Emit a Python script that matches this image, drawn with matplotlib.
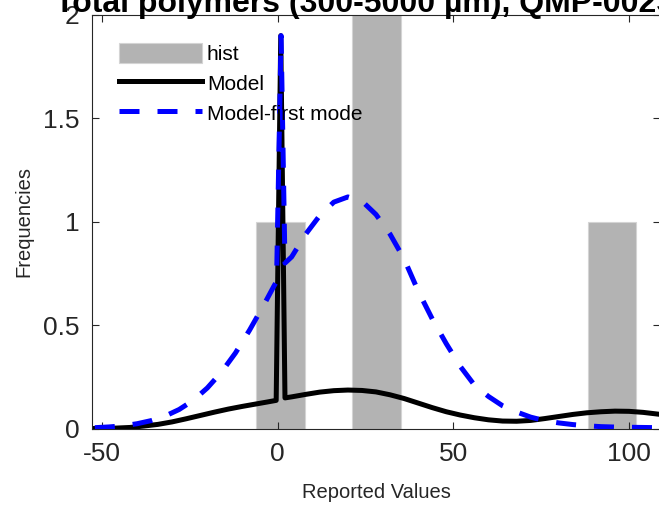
import matplotlib
matplotlib.use("Agg")
import matplotlib.pyplot as plt

plt.rcParams['font.family'] = ['Liberation Sans', 'DejaVu Sans']
plt.rcParams['axes.unicode_minus'] = False

# Histogram bars
bar_centers = [0.8, 28.1, 95.1]
bar_heights = [1, 2, 1]
bar_width = 13.8

# Model (black solid)
model_x = [-52, -46, -42, -38, -34, -30, -26, -22, -18, -14, -10, -6, -3, -0.4,
           0.9, 2.1, 4, 8, 12, 16, 20, 24, 28, 32, 36, 40, 44, 48, 52, 56, 60,
           64, 68, 72, 76, 80, 84, 88, 92, 96, 100, 104, 108, 112]
model_y = [0.0, 0.002, 0.005, 0.012, 0.02, 0.032, 0.047, 0.063, 0.079, 0.094,
           0.107, 0.119, 0.128, 0.136,
           1.90, 0.148, 0.153, 0.165, 0.176, 0.183, 0.186, 0.184, 0.177, 0.163,
           0.145, 0.123, 0.101, 0.081, 0.065, 0.052, 0.042, 0.036, 0.035, 0.039,
           0.048, 0.058, 0.068, 0.076, 0.081, 0.084, 0.083, 0.078, 0.07, 0.062]

# Model - first mode (blue dashed)
mode1_x = [-52, -48, -44, -40, -36, -32, -28, -24, -20, -16, -12, -8, -4, -1,
           -0.3, 1.0, 2.1, 4, 8, 12, 16, 20, 24, 28, 32, 36, 40, 44, 48, 52, 56,
           60, 64, 68, 72, 76, 80, 84, 88, 92, 96, 100, 104, 108, 112]
mode1_y = [0.004, 0.0075, 0.013, 0.023, 0.038, 0.06, 0.092, 0.136, 0.196, 0.272,
           0.365, 0.475, 0.595, 0.69,
           0.71, 1.90, 0.80, 0.83, 0.94, 1.03, 1.095, 1.12, 1.10, 1.035, 0.94,
           0.82, 0.665, 0.53, 0.41, 0.30, 0.21, 0.155, 0.11, 0.08, 0.055, 0.038,
           0.027, 0.019, 0.013, 0.009, 0.007, 0.006, 0.005, 0.004, 0.003]

x_ticks = [-50, 0, 50, 100]
y_ticks = [0, 0.5, 1, 1.5, 2]
y_tick_labels = ['0', '0.5', '1', '1.5', '2']

W, H = 659, 505
fig = plt.figure(figsize=(W / 100, H / 100), dpi=100)
ax = fig.add_axes([92 / W, 76.5 / H, (660 - 92) / W, (428.5 - 15) / H])

h_bar = ax.bar(bar_centers, bar_heights, width=bar_width, color=(0.7, 0.7, 0.7),
               edgecolor='#d4d4d4', linewidth=0.8, label='hist', zorder=1)
h_model, = ax.plot(model_x, model_y, color='black', lw=3.6, label='Model',
                   zorder=2)
h_mode1, = ax.plot(mode1_x, mode1_y, color='blue', lw=3.6, dashes=(4, 3.6),
                   label='Model-first mode', zorder=3, dash_capstyle='butt')

ax.set_xlim(-52.8, 108.8)
ax.set_ylim(0, 2)
ax.set_xticks(x_ticks)
ax.set_yticks(y_ticks)
ax.set_yticklabels(y_tick_labels)

dark = '#262626'
for s in ax.spines.values():
    s.set_color(dark)
    s.set_linewidth(0.8)
ax.tick_params(direction='in', length=5, width=0.8, colors=dark,
               labelsize=19, top=True, right=True)
ax.tick_params(axis='y', pad=9)
ax.tick_params(axis='x', pad=10)
ax.set_xlabel('Reported Values', fontsize=14.5, color=dark, labelpad=12)
ax.set_ylabel('Frequencies', fontsize=14.5, color=dark, labelpad=7)

fig.text(366 / W, (H - 12) / H, 'Total polymers (300-5000 µm), QMP-002S',
         ha='center', va='baseline', fontsize=23, fontweight='bold',
         color='black')

ax.legend([h_bar, h_model, h_mode1], ['hist', 'Model', 'Model-first mode'],
          loc='upper left', bbox_to_anchor=(0.015, 0.978), frameon=False,
          fontsize=15, handlelength=3.95, handleheight=1.1,
          labelspacing=0.43, handletextpad=0.25)

fig.savefig('out.png', dpi=100)
